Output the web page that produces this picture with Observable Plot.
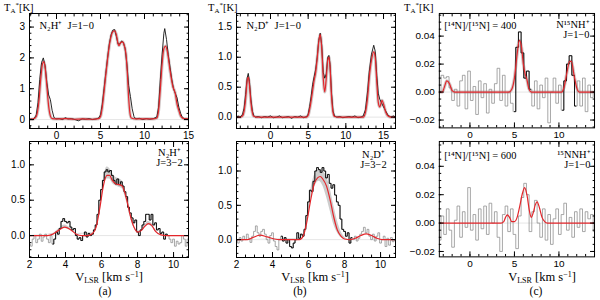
<!DOCTYPE html>
<html><head><meta charset="utf-8">
<script src="https://cdn.jsdelivr.net/npm/d3@7"></script>
<script src="https://cdn.jsdelivr.net/npm/@observablehq/plot@0.6"></script>
<style>
html,body{margin:0;padding:0;background:#fff;}
#fig{position:relative;width:600px;height:300px;overflow:hidden;background:#fff;}
.pn{position:absolute;}
.lab{position:absolute;font-family:"Liberation Serif","Times New Roman",serif;font-size:10.5px;color:#000;white-space:nowrap;line-height:11px;}
.lab sub{font-size:7px;vertical-align:baseline;position:relative;top:2px;}
.lab sup{font-size:7px;vertical-align:baseline;position:relative;top:-4px;}
.big{font-size:12.5px;line-height:12px;}
.big sub{font-size:8px;top:2px;}
.big sup{font-size:8px;top:-4px;}
.pl{font-size:11.5px;line-height:11px;}
.ctr{transform:translateX(-50%);}
</style></head>
<body><div id="fig"></div>
<script>
// ================= DATA =================
// (a) top: N2H+ J=1-0, [v (km/s), T (K)]
const aTopObs = [[-3.1,0.0],[-2.9,0.02],[-2.7,0.0],[-2.5,0.05],[-2.3,0.15],[-2.1,0.55],[-1.9,1.3],[-1.7,1.85],[-1.5,2.0],[-1.3,1.75],[-1.1,1.2],[-0.9,0.8],[-0.7,0.65],[-0.5,0.3],[-0.3,0.08],[-0.1,0.02],[0.3,0.03],[0.7,0.0],[1.0,0.06],[1.3,0.02],[1.7,0.03],[2.1,0.0],[2.5,-0.04],[2.9,0.02],[3.3,0.01],[3.7,0.03],[4.1,0.0],[4.5,0.02],[4.8,0.05],[5.0,0.15],[5.2,0.5],[5.4,1.0],[5.6,1.5],[5.8,2.0],[6.0,2.45],[6.2,2.75],[6.4,2.9],[6.6,2.92],[6.8,2.7],[7.0,2.45],[7.2,2.45],[7.4,2.55],[7.6,2.5],[7.8,2.3],[8.0,1.8],[8.2,1.1],[8.4,0.75],[8.6,0.35],[8.8,0.1],[9.0,0.02],[9.4,0.04],[9.8,0.0],[10.2,0.03],[10.6,0.01],[11.0,0.03],[11.4,0.08],[11.6,0.4],[11.8,1.3],[12.0,2.1],[12.2,2.8],[12.3,2.95],[12.5,2.6],[12.7,2.1],[12.9,1.7],[13.1,1.3],[13.3,1.0],[13.5,0.85],[13.7,0.7],[13.9,0.4],[14.1,0.2],[14.3,0.07],[14.6,0.02],[15.0,0.02]];
const aTopModel = [[-3.1,0.0],[-2.6,0.02],[-2.3,0.1],[-2.0,0.6],[-1.8,1.3],[-1.6,1.8],[-1.45,1.88],[-1.3,1.7],[-1.1,1.1],[-0.9,0.45],[-0.7,0.12],[-0.5,0.03],[0,0.02],[1,0.03],[2,0.01],[3,0.02],[4,0.01],[4.8,0.03],[5.0,0.1],[5.2,0.4],[5.4,0.9],[5.6,1.45],[5.8,1.95],[6.0,2.4],[6.2,2.7],[6.4,2.85],[6.6,2.88],[6.8,2.75],[7.0,2.45],[7.1,2.4],[7.3,2.5],[7.5,2.52],[7.7,2.4],[7.9,2.1],[8.05,1.5],[8.2,0.7],[8.35,0.2],[8.5,0.05],[9,0.02],[10,0.02],[11,0.02],[11.4,0.05],[11.6,0.3],[11.8,1.0],[12.0,1.8],[12.2,2.3],[12.4,2.38],[12.6,2.2],[12.9,1.6],[13.2,1.1],[13.5,0.84],[13.7,0.5],[13.9,0.3],[14.1,0.12],[14.3,0.05],[14.6,0.02],[15,0.02]];
const aTopXTicks = [0, 5, 10, 15];
const aTopYTicks = [0, 1, 2, 3];

// (a) bottom: N2H+ J=3-2, channels from 2.0 km/s every 0.1 km/s
const aBotV0 = 2.0, aBotDV = 0.1;
const aBotObs = [-0.12,-0.15,-0.05,0.0,-0.1,-0.05,0.02,-0.08,-0.02,0.02,-0.05,-0.1,0.0,-0.12,-0.05,0.05,0.02,0.1,0.2,0.24,0.2,0.18,0.2,0.12,0.08,0.1,0.0,-0.05,-0.03,-0.07,0.0,0.05,-0.02,0.03,0.0,0.02,0.08,0.15,0.3,0.5,0.65,0.78,0.9,0.93,0.9,0.92,0.85,0.78,0.73,0.8,0.72,0.76,0.7,0.62,0.55,0.4,0.32,0.25,0.18,0.22,0.05,0.0,0.08,0.15,0.2,0.3,0.3,0.22,0.3,0.15,0.18,0.08,0.1,0.03,0.05,-0.05,0.02,0.0,-0.05,-0.1,-0.05,-0.15,-0.08,-0.12,-0.1,0.0,-0.05,-0.15,-0.05,-0.1];
const aBotWindows = [[3.3, 9.7]];
const aBotModel = [[2,0],[2.5,0],[3,0.0],[3.3,0.02],[3.6,0.07],[3.95,0.12],[4.3,0.08],[4.6,0.02],[4.9,0.0],[5.2,0.0],[5.5,0.03],[5.7,0.12],[5.9,0.38],[6.1,0.7],[6.3,0.85],[6.45,0.85],[6.6,0.78],[6.8,0.73],[7.0,0.72],[7.15,0.7],[7.3,0.6],[7.45,0.45],[7.6,0.28],[7.8,0.12],[8.0,0.05],[8.2,0.07],[8.4,0.13],[8.6,0.17],[8.8,0.14],[9.0,0.06],[9.3,0.01],[9.6,0],[10,0],[11,0]];
const aBotBandV  = [2.0,3.3,3.6,3.95,4.3,4.6,5.5,5.7,5.9,6.1,6.3,6.45,6.6,6.8,7.0,7.15,7.3,7.45,7.6,7.8,8.0,8.2,8.4,8.6,8.8,9.0,9.3,11];
const aBotBandLo = [0,0.02,0.06,0.1,0.07,0.02,0.03,0.11,0.35,0.66,0.8,0.8,0.74,0.7,0.68,0.66,0.56,0.42,0.26,0.11,0.05,0.06,0.11,0.15,0.12,0.05,0.01,0];
const aBotBandHi = [0,0.03,0.09,0.15,0.1,0.03,0.04,0.14,0.42,0.78,0.97,0.95,0.88,0.82,0.8,0.77,0.65,0.49,0.3,0.14,0.06,0.08,0.15,0.2,0.17,0.07,0.01,0];
const aBotXTicks = [2, 4, 6, 8, 10];
const aBotYTicks = [0, 0.5, 1];

// (b) top: N2D+ J=1-0
const bTopObs = [[-4.5,0.0],[-4.3,0.02],[-4.1,0.0],[-3.9,0.01],[-3.7,0.05],[-3.5,0.15],[-3.3,0.38],[-3.1,0.65],[-2.95,0.73],[-2.8,0.6],[-2.6,0.3],[-2.4,0.1],[-2.2,0.02],[-2.0,0.0],[-1.6,0.01],[-1.2,-0.01],[-0.8,0.01],[-0.4,0.0],[0,0.02],[0.4,-0.01],[0.8,0.0],[1.2,0.02],[1.6,-0.01],[2.0,0.0],[2.4,0.01],[2.8,-0.02],[3.2,0.01],[3.6,0.0],[4.0,0.02],[4.4,-0.01],[4.8,0.01],[5.0,0.05],[5.2,0.18],[5.4,0.35],[5.6,0.55],[5.8,0.68],[6.0,0.8],[6.2,1.0],[6.4,1.28],[6.6,1.4],[6.8,1.2],[7.0,0.75],[7.2,0.65],[7.4,0.72],[7.6,1.0],[7.75,1.03],[7.9,0.88],[8.1,0.4],[8.3,0.1],[8.5,0.02],[8.8,0.0],[9.2,0.01],[9.6,-0.01],[10.0,0.0],[10.4,0.01],[10.8,0.0],[11.2,0.02],[11.6,-0.01],[12.0,0.0],[12.3,0.02],[12.6,0.12],[12.9,0.45],[13.1,0.75],[13.4,1.05],[13.7,1.2],[13.9,1.1],[14.1,0.7],[14.3,0.4],[14.5,0.3],[14.8,0.22],[15.0,0.17],[15.3,0.1],[15.6,0.03],[16.0,0.0],[16.3,0.02],[16.6,0.0]];
const bTopModel = [[-4.5,0],[-4,0.0],[-3.7,0.02],[-3.5,0.1],[-3.3,0.3],[-3.1,0.6],[-2.95,0.67],[-2.8,0.55],[-2.6,0.25],[-2.4,0.07],[-2.2,0.01],[-1.5,0],[0,0],[2,0],[4,0],[4.8,0.0],[5.0,0.03],[5.3,0.2],[5.6,0.45],[5.8,0.62],[6.0,0.75],[6.2,0.98],[6.4,1.25],[6.6,1.38],[6.8,1.15],[7.0,0.65],[7.2,0.42],[7.4,0.65],[7.6,0.95],[7.75,1.0],[7.9,0.85],[8.1,0.35],[8.3,0.08],[8.5,0.01],[9,0],[11,0],[12.3,0.0],[12.6,0.08],[12.9,0.35],[13.1,0.65],[13.4,0.95],[13.7,1.09],[13.9,1.0],[14.1,0.6],[14.3,0.25],[14.5,0.17],[14.8,0.28],[15.0,0.22],[15.3,0.08],[15.6,0.02],[16,0],[16.6,0]];
const bTopXTicks = [0, 5, 10, 15];
const bTopYTicks = [0, 0.5, 1, 1.5];

// (b) bottom: N2D+ J=3-2, channels from 2.0 km/s every 0.1 km/s
const bBotV0 = 2.0, bBotDV = 0.1;
const bBotObs = [0.0,-0.05,0.03,-0.02,0.05,0.0,0.08,0.02,-0.04,0.05,0.12,0.2,0.1,0.05,0.12,0.15,0.08,0.0,-0.05,0.06,0.1,-0.02,-0.1,-0.15,0.0,0.05,-0.02,0.03,-0.05,0.0,-0.1,-0.12,-0.05,0.0,0.1,0.02,0.08,0.05,0.15,0.35,0.55,0.72,0.7,0.85,1.0,1.05,1.02,0.98,1.05,1.0,0.9,0.95,0.82,0.75,0.8,0.65,0.55,0.5,0.3,0.15,0.12,0.05,0.1,-0.05,0.03,0.0,0.05,-0.02,0.02,0.08,0.12,0.18,0.1,0.15,0.05,0.0,0.08,-0.02,0.05,0.1,-0.05,0.0,0.05,-0.1,0.02,-0.08,0.03,-0.03,0.0];
const bBotWindows = [[4.5, 8.4]];
const bBotModel = [[2,0],[2.6,0.0],[2.9,0.03],[3.3,0.065],[3.7,0.04],[4.1,0.01],[4.4,0],[5.5,0],[5.7,0.05],[5.9,0.25],[6.1,0.55],[6.3,0.8],[6.5,0.9],[6.65,0.92],[6.8,0.88],[7.0,0.78],[7.2,0.58],[7.4,0.33],[7.6,0.14],[7.8,0.05],[8.0,0.01],[8.3,0.0],[8.6,0.02],[8.9,0.06],[9.2,0.085],[9.5,0.06],[9.8,0.02],[10.1,0],[11,0]];
const bBotBandV  = [2,5.6,5.8,6.0,6.2,6.4,6.6,6.8,7.0,7.2,7.4,7.6,7.8,8.0,8.3,11];
const bBotBandLo = [0,0.01,0.12,0.4,0.65,0.8,0.85,0.78,0.62,0.42,0.22,0.1,0.03,0.01,0,0];
const bBotBandHi = [0,0.02,0.16,0.5,0.82,0.98,1.02,1.0,0.92,0.75,0.5,0.28,0.12,0.04,0,0];
const bBotXTicks = [2, 4, 6, 8, 10];
const bBotYTicks = [0, 0.5, 1];

// (c) top: N15NH+ J=1-0 ([14N]/[15N]=400), channels from -3.4 km/s every 0.3 km/s
const cTopV0 = -3.4, cTopDV = 0.3;
const cTopObs = [0.0,0.012,0.01,0.011,0.003,-0.006,0.002,-0.01,0.008,0.012,-0.012,0.015,-0.006,0.004,-0.016,0.008,-0.004,0.006,-0.015,0.002,-0.008,0.006,0.017,-0.006,0.012,-0.01,0.0,-0.008,-0.014,0.032,0.043,0.028,0.01,0.015,0.002,-0.01,0.008,-0.012,0.005,-0.004,0.01,-0.022,0.0,0.01,-0.008,0.005,-0.013,0.008,0.02,0.026,0.012,-0.01,0.008,-0.01,0.01,-0.014,0.005,-0.004,0.0];
const cTopWindows = [[4.9, 6.9], [10.4, 12.0]];
const cTopModel = [[-3.5,0],[-3.1,0.0],[-2.9,0.003],[-2.6,0.008],[-2.3,0.006],[-2.0,0.001],[-1.7,0],[4.4,0],[4.7,0.002],[5.0,0.01],[5.3,0.027],[5.55,0.037],[5.8,0.032],[6.0,0.02],[6.2,0.013],[6.4,0.009],[6.6,0.003],[6.9,0],[10.3,0],[10.6,0.004],[10.9,0.014],[11.2,0.022],[11.4,0.022],[11.7,0.012],[12.0,0.003],[12.3,0],[14.1,0]];
const cTopXTicks = [0, 5, 10];
const cTopYTicks = [-0.02, 0, 0.02, 0.04];

// (c) bottom: 15NNH+ J=1-0 ([14N]/[15N]=600)
const cBotV0 = -3.4, cBotDV = 0.3;
const cBotObs = [-0.012,0.005,-0.008,0.01,-0.005,-0.017,0.002,0.012,-0.01,0.008,-0.003,0.025,-0.005,0.006,-0.012,0.01,-0.004,0.012,-0.008,0.014,0.0,0.008,-0.01,-0.02,0.006,0.012,-0.006,0.01,-0.008,-0.018,0.005,0.018,0.028,0.02,-0.006,0.008,0.016,0.0,-0.01,0.01,-0.012,0.006,-0.015,0.003,0.01,-0.008,0.006,0.014,-0.005,0.004,-0.01,0.008,-0.003,0.01,-0.006,0.008,0.003,0.006,-0.006];
const cBotWindows = [];
const cBotModel = [[-3.5,0],[3.5,0],[3.8,0.001],[4.0,0.004],[4.2,0.0058],[4.45,0.004],[4.7,0.001],[5.0,0.001],[5.3,0.004],[5.6,0.012],[5.9,0.021],[6.15,0.025],[6.4,0.02],[6.7,0.008],[6.9,0.004],[7.1,0.007],[7.35,0.013],[7.55,0.015],[7.8,0.011],[8.1,0.004],[8.4,0.001],[8.7,0],[14.1,0]];
const cBotXTicks = [0, 5, 10];
const cBotYTicks = [-0.02, 0, 0.02, 0.04];

// ================= BUILD =================
const SERIF = '"Liberation Serif","Times New Roman",serif';
const SANS = '"Liberation Sans",Arial,Helvetica,sans-serif';
const RED = "#e3262b";
const pairs = arr => arr.map(([v, T]) => ({v, T}));
const chan = (v0, dv, arr) => arr.map((T, i) => ({v: +(v0 + i * dv).toFixed(3), T}));
const band = (vs, lo, hi) => vs.map((v, i) => ({v, lo: lo[i], hi: hi[i]}));
const minor = (dom, step) => d3.range(Math.ceil(dom[0] / step) * step, dom[1] + 1e-9, step).map(d => +d.toFixed(4));

const mL = 32, mR = 6, mT = 6, mB = 18;
const none = () => "";

function axes(p) {
  const xm = minor(p.xDomain, p.xMinorStep), ym = minor(p.yDomain, p.yMinorStep);
  return [
    Plot.axisX(p.xMajor, {anchor: "bottom", tickSize: -5, tickPadding: 8, label: null}),
    Plot.axisX(xm, {anchor: "bottom", tickSize: -2.4, tickFormat: none, label: null}),
    Plot.axisX(p.xMajor, {anchor: "top", tickSize: -5, tickFormat: none, label: null}),
    Plot.axisX(xm, {anchor: "top", tickSize: -2.4, tickFormat: none, label: null}),
    Plot.axisY(p.yMajor, {anchor: "left", tickSize: -5, tickPadding: 9.5, label: null}),
    Plot.axisY(ym, {anchor: "left", tickSize: -2.4, tickFormat: none, label: null}),
    Plot.axisY(p.yMajor, {anchor: "right", tickSize: -5, tickFormat: none, label: null}),
    Plot.axisY(ym, {anchor: "right", tickSize: -2.4, tickFormat: none, label: null})
  ];
}

function spec(p) {
  const m = [Plot.ruleY([0], {stroke: "#d4d4d4", strokeWidth: 0.6})];
  if (p.band) m.push(Plot.areaY(p.band, {x: "v", y1: "lo", y2: "hi", fill: "#cdcdcd", curve: "monotone-x", clip: true}));
  if (p.halo) m.push(Plot.line(p.model, {x: "v", y: "T", stroke: "#d2c8c8", strokeWidth: 3.2, curve: "monotone-x", clip: true}));
  const windowed = Array.isArray(p.windows);
  m.push(Plot.line(p.obs, {x: "v", y: "T", stroke: windowed ? "#8a8a8a" : "#111", strokeWidth: windowed ? 0.75 : 0.9, curve: p.obsCurve, clip: true}));
  if (windowed && p.windows.length) {
    const inW = p.obs.map(d => ({...d, k: p.windows.findIndex(([a, b]) => d.v >= a - 1e-6 && d.v <= b + 1e-6)})).filter(d => d.k >= 0);
    m.push(Plot.line(inW, {x: "v", y: "T", z: "k", stroke: "#000", strokeWidth: 0.9, curve: p.obsCurve, clip: true}));
  }
  m.push(Plot.line(p.model, {x: "v", y: "T", stroke: RED, strokeWidth: 1.2, curve: "monotone-x", clip: true}));
  return m;
}

function texts(p) {
  return p.labels.map(l => Plot.text([l.text], {
    text: d => d, frameAnchor: l.anchor, dx: l.dx, dy: l.dy,
    textAnchor: l.textAnchor, lineAnchor: l.lineAnchor, lineHeight: 1.0,
    fontFamily: SERIF, fontSize: 10.5, fill: "#000"
  }));
}

const panels = [
  {L: 29, T: 13, W: 159, H: 115, xDomain: [-3.07, 15], yDomain: [-0.29, 3.44], xMajor: aTopXTicks, xMinorStep: 1, yMajor: aTopYTicks, yMinorStep: 0.2,
   obs: pairs(aTopObs), obsCurve: "linear", model: pairs(aTopModel), halo: true,
   labels: [{text: "N₂H⁺  J=1−0", anchor: "top-left", dx: 10, dy: 12, textAnchor: "start", lineAnchor: "middle"}]},
  {L: 29, T: 141, W: 159, H: 116, xDomain: [2, 10.83], yDomain: [-0.31, 1.33], xMajor: aBotXTicks, xMinorStep: 0.5, yMajor: aBotYTicks, yMinorStep: 0.1,
   obs: chan(aBotV0, aBotDV, aBotObs), obsCurve: "step", windows: aBotWindows, model: pairs(aBotModel), band: band(aBotBandV, aBotBandLo, aBotBandHi),
   labels: [{text: "N₂H⁺\nJ=3−2", anchor: "top-right", dx: -19, dy: 7, textAnchor: "middle", lineAnchor: "top"}]},
  {L: 236, T: 13, W: 159, H: 115, xDomain: [-4.51, 16.59], yDomain: [-0.19, 1.73], xMajor: bTopXTicks, xMinorStep: 1, yMajor: bTopYTicks, yMinorStep: 0.1,
   obs: pairs(bTopObs), obsCurve: "linear", model: pairs(bTopModel), halo: true,
   labels: [{text: "N₂D⁺  J=1−0", anchor: "top-left", dx: 10, dy: 12, textAnchor: "start", lineAnchor: "middle"}]},
  {L: 236, T: 141, W: 159, H: 116, xDomain: [2, 10.83], yDomain: [-0.26, 1.43], xMajor: bBotXTicks, xMinorStep: 0.5, yMajor: bBotYTicks, yMinorStep: 0.1,
   obs: chan(bBotV0, bBotDV, bBotObs), obsCurve: "step", windows: bBotWindows, model: pairs(bBotModel), band: band(bBotBandV, bBotBandLo, bBotBandHi),
   labels: [{text: "N₂D⁺\nJ=3−2", anchor: "top-right", dx: -22, dy: 9, textAnchor: "middle", lineAnchor: "top"}]},
  {L: 439, T: 13, W: 156, H: 115, xDomain: [-3.44, 14], yDomain: [-0.0256, 0.0562], xMajor: cTopXTicks, xMinorStep: 1, yMajor: cTopYTicks, yMinorStep: 0.005,
   obs: chan(cTopV0, cTopDV, cTopObs), obsCurve: "step", windows: cTopWindows, model: pairs(cTopModel), halo: true,
   labels: [{text: "[¹⁴N]/[¹⁵N] = 400", anchor: "top-left", dx: 5, dy: 12, textAnchor: "start", lineAnchor: "middle"},
            {text: "N¹⁵NH⁺\nJ=1−0", anchor: "top-right", dx: -5, dy: 7, textAnchor: "end", lineAnchor: "top"}]},
  {L: 439, T: 141, W: 156, H: 116, xDomain: [-3.44, 14], yDomain: [-0.0238, 0.0575], xMajor: cBotXTicks, xMinorStep: 1, yMajor: cBotYTicks, yMinorStep: 0.005,
   obs: chan(cBotV0, cBotDV, cBotObs), obsCurve: "step", windows: cBotWindows, model: pairs(cBotModel), halo: false,
   labels: [{text: "[¹⁴N]/[¹⁵N] = 600", anchor: "top-left", dx: 5, dy: 14, textAnchor: "start", lineAnchor: "middle"},
            {text: "¹⁵NNH⁺\nJ=1−0", anchor: "top-right", dx: -4, dy: 9, textAnchor: "end", lineAnchor: "top"}]}
];

const fig = document.getElementById("fig");
for (const p of panels) {
  const svg = Plot.plot({
    width: p.W + mL + mR, height: p.H + mT + mB,
    marginLeft: mL, marginRight: mR, marginTop: mT, marginBottom: mB,
    x: {domain: p.xDomain}, y: {domain: p.yDomain},
    style: {fontFamily: SANS, fontSize: "10px", background: "transparent", overflow: "visible", color: "#000"},
    marks: [...spec(p), Plot.frame({stroke: "#000", strokeWidth: 1}), ...axes(p), ...texts(p)]
  });
  const wrap = document.createElement("div");
  wrap.className = "pn";
  wrap.style.left = (p.L - mL) + "px";
  wrap.style.top = (p.T - mT) + "px";
  wrap.appendChild(svg);
  fig.appendChild(wrap);
}

// outer labels
const outer = [
  {html: "T<sub>A</sub><sup>*</sup>[K]", left: 4, top: 2, cls: ""},
  {html: "T<sub>A</sub><sup>*</sup>[K]", left: 208, top: 2, cls: ""},
  {html: "T<sub>A</sub><sup>*</sup>[K]", left: 404, top: 2, cls: ""},
  {html: "V<sub>LSR</sub> [km s<sup>−1</sup>]", left: 109, top: 271, cls: "ctr big"},
  {html: "V<sub>LSR</sub> [km s<sup>−1</sup>]", left: 315, top: 271, cls: "ctr big"},
  {html: "V<sub>LSR</sub> [km s<sup>−1</sup>]", left: 542, top: 271, cls: "ctr big"},
  {html: "(a)", left: 105, top: 286, cls: "ctr pl"},
  {html: "(b)", left: 300, top: 286, cls: "ctr pl"},
  {html: "(c)", left: 536, top: 286, cls: "ctr pl"}
];
for (const o of outer) {
  const d = document.createElement("div");
  d.className = "lab " + o.cls;
  d.style.left = o.left + "px";
  d.style.top = o.top + "px";
  d.innerHTML = o.html;
  fig.appendChild(d);
}
</script>
</body></html>
